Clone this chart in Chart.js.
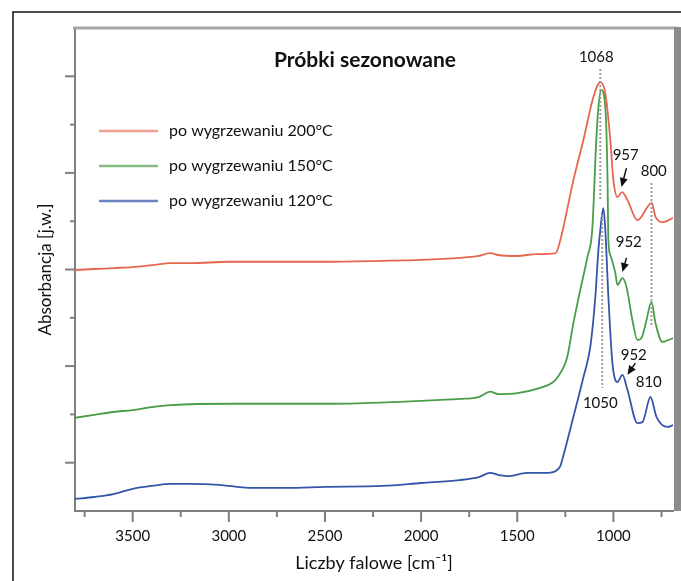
<!DOCTYPE html>
<html>
<head>
<meta charset="utf-8">
<script src="https://cdn.jsdelivr.net/npm/chart.js@4.4.1/dist/chart.umd.min.js"></script>
<style>
  body { margin: 0; background: #fff; }
  #wrap { width: 681px; height: 581px; }
</style>
</head>
<body>
<div id="wrap"><canvas id="ftir" width="681" height="581"></canvas></div>
<script>
// widma FTIR - liczby falowe [cm-1] i absorbancja [j.w.]
var seriesNames = ['po wygrzewaniu 200°C', 'po wygrzewaniu 150°C', 'po wygrzewaniu 120°C'];

var redWn  = [3800,3700,3600,3500,3400,3300,3200,3000,2800,2500,2200,2000,1800,1700,1640,1600,1500,1400,1300,1276,1208,1156,1104,1068,1042,1016,1000,979,955,927,875,800,781,740,690];
var redAbs = [4.99,5.01,5.03,5.05,5.09,5.13,5.13,5.16,5.16,5.16,5.18,5.20,5.24,5.28,5.34,5.30,5.28,5.32,5.34,5.61,6.85,7.68,8.57,8.88,8.65,7.68,6.85,6.50,6.60,6.44,6.02,6.38,6.09,5.98,6.07];

var greenWn  = [3800,3700,3600,3500,3400,3300,3000,2500,2000,1800,1700,1640,1600,1500,1380,1320,1290,1240,1208,1172,1135,1110,1089,1078,1063,1042,1031,1026,1016,990,979,953,932,901,875,854,828,802,781,745,714,688];
var greenAbs = [1.93,1.99,2.05,2.09,2.15,2.19,2.22,2.22,2.28,2.32,2.36,2.47,2.42,2.44,2.55,2.65,2.77,3.19,3.89,4.58,5.26,5.82,7.68,8.36,8.72,8.36,7.00,5.61,5.30,4.93,4.68,4.82,4.64,3.95,3.54,3.58,3.95,4.33,3.89,3.50,3.54,3.58];

var blueWn  = [3800,3700,3600,3500,3400,3300,3200,3050,3000,2900,2700,2500,2200,2000,1800,1700,1640,1600,1550,1450,1350,1300,1276,1266,1208,1156,1120,1094,1078,1068,1052,1042,1026,1005,979,953,927,875,849,807,776,719,688];
var blueAbs = [0.25,0.29,0.35,0.46,0.52,0.56,0.56,0.54,0.52,0.48,0.48,0.50,0.52,0.58,0.64,0.70,0.79,0.75,0.72,0.79,0.79,0.83,0.93,1.06,1.95,2.77,3.40,4.43,5.40,5.82,6.27,5.82,4.43,3.06,2.67,2.82,2.51,1.82,1.84,2.36,1.95,1.74,1.78];

// opisy pasm
var peakText   = ['1068', '957', '800', '952', '952', '810', '1050'];
var peakTextWn = [1089, 936, 790, 920, 894, 816, 1068];
var peakTextAbs = [9.40, 7.37, 7.04, 5.57, 3.23, 2.67, 2.24];
var dotWn   = [1068, 802, 1058];
var dotFrom = [9.15, 6.79, 6.13];
var dotTo   = [6.45, 3.81, 2.55];
var arrowWn  = [[932, 958], [932, 953], [886, 927]];
var arrowAbs = [[7.10, 6.71], [5.24, 4.95], [3.06, 2.82]];

var lineColors = ['#e5674f', '#4a9d48', '#3356a8'];
var legendColors = ['#f0a093', '#86bb84', '#6b82c0'];

function pts(wn, ab) {
    return wn.map(function(w, i) { return { x: w, y: ab[i] }; });
}

var FONT = 'Lato, "Open Sans", sans-serif';

var decor = {
    id: 'decor',
    beforeDraw: function(chart) {
        var ctx = chart.ctx;
        ctx.save();
        ctx.strokeStyle = '#111';
        ctx.lineWidth = 1.5;
        ctx.beginPath();
        ctx.moveTo(13, 581);
        ctx.lineTo(13, 12);
        ctx.lineTo(681, 12);
        ctx.stroke();
        ctx.restore();
    },
    afterDatasetsDraw: function(chart) {
        var ctx = chart.ctx, a = chart.chartArea;
        var x = chart.scales.x, y = chart.scales.y;
        ctx.save();

        // ramka pola wykresu
        ctx.strokeStyle = '#a6a6a6';
        ctx.lineWidth = 3;
        ctx.beginPath();
        ctx.moveTo(a.left - 2, a.top);
        ctx.lineTo(a.right + 4, a.top);
        ctx.stroke();
        ctx.fillStyle = '#8c8c8c';
        ctx.fillRect(a.right + 1, a.top - 1, 7, a.bottom - a.top + 1);

        // znaczniki osi
        ctx.strokeStyle = '#7f7f7f';
        ctx.lineWidth = 2;
        for (var t = 750; t <= 3750; t += 250) {
            var px = x.getPixelForValue(t);
            var len = (t % 500 === 0) ? 11 : 6;
            ctx.beginPath();
            ctx.moveTo(px, a.bottom);
            ctx.lineTo(px, a.bottom + len);
            ctx.stroke();
        }
        for (var v = 1; v <= 9; v++) {
            var py = y.getPixelForValue(v);
            var l2 = (v % 2 === 1) ? 10 : 5;
            ctx.beginPath();
            ctx.moveTo(a.left, py);
            ctx.lineTo(a.left - l2, py);
            ctx.stroke();
        }

        // linie kropkowane
        ctx.strokeStyle = '#9a9a9a';
        ctx.lineWidth = 2;
        ctx.setLineDash([2, 2]);
        dotWn.forEach(function(w, i) {
            var px = x.getPixelForValue(w);
            ctx.beginPath();
            ctx.moveTo(px, y.getPixelForValue(dotFrom[i]));
            ctx.lineTo(px, y.getPixelForValue(dotTo[i]));
            ctx.stroke();
        });
        ctx.setLineDash([]);

        // strzalki
        ctx.strokeStyle = '#111';
        ctx.fillStyle = '#111';
        ctx.lineWidth = 1.5;
        arrowWn.forEach(function(w, i) {
            var x0 = x.getPixelForValue(w[0]), y0 = y.getPixelForValue(arrowAbs[i][0]);
            var x1 = x.getPixelForValue(w[1]), y1 = y.getPixelForValue(arrowAbs[i][1]);
            var ang = Math.atan2(y1 - y0, x1 - x0);
            ctx.beginPath();
            ctx.moveTo(x0, y0);
            ctx.lineTo(x1 - 5 * Math.cos(ang), y1 - 5 * Math.sin(ang));
            ctx.stroke();
            ctx.beginPath();
            ctx.moveTo(x1, y1);
            ctx.lineTo(x1 - 9 * Math.cos(ang) + 4 * Math.sin(ang), y1 - 9 * Math.sin(ang) - 4 * Math.cos(ang));
            ctx.lineTo(x1 - 9 * Math.cos(ang) - 4 * Math.sin(ang), y1 - 9 * Math.sin(ang) + 4 * Math.cos(ang));
            ctx.closePath();
            ctx.fill();
        });

        // opisy pasm
        ctx.fillStyle = '#111';
        ctx.font = '15px ' + FONT;
        ctx.textAlign = 'center';
        ctx.textBaseline = 'middle';
        peakText.forEach(function(s, i) {
            ctx.fillText(s, x.getPixelForValue(peakTextWn[i]), y.getPixelForValue(peakTextAbs[i]));
        });

        // tytul
        ctx.font = 'bold 21px ' + FONT;
        ctx.fillText('Próbki sezonowane', a.left + 290, a.top + 32);

        // legenda
        ctx.textAlign = 'left';
        ctx.font = '16px ' + FONT;
        seriesNames.forEach(function(n, i) {
            var ly = a.top + 103 + i * 35;
            ctx.strokeStyle = legendColors[i];
            ctx.lineWidth = 2.5;
            ctx.beginPath();
            ctx.moveTo(a.left + 24, ly);
            ctx.lineTo(a.left + 83, ly);
            ctx.stroke();
            ctx.fillStyle = '#111';
            ctx.fillText(n, a.left + 94, ly);
        });
        ctx.restore();
    }
};

new Chart(document.getElementById('ftir'), {
    type: 'line',
    data: {
        datasets: [
            { label: seriesNames[0], data: pts(redWn, redAbs), borderColor: lineColors[0] },
            { label: seriesNames[1], data: pts(greenWn, greenAbs), borderColor: lineColors[1] },
            { label: seriesNames[2], data: pts(blueWn, blueAbs), borderColor: lineColors[2] }
        ]
    },
    options: {
        responsive: false,
        animation: false,
        layout: { padding: { top: 28, right: 8, left: 0, bottom: 0 } },
        elements: {
            point: { radius: 0 },
            line: { borderWidth: 1.8, cubicInterpolationMode: 'monotone', fill: false }
        },
        plugins: {
            legend: { display: false },
            tooltip: { enabled: false }
        },
        scales: {
            x: {
                type: 'linear',
                reverse: true,
                min: 690,
                max: 3800,
                afterFit: function(s) { s.height = 70; },
                grid: { display: false, drawTicks: false },
                border: { display: true, color: '#7f7f7f', width: 2 },
                ticks: {
                    stepSize: 250,
                    includeBounds: false,
                    autoSkip: false,
                    maxRotation: 0,
                    padding: 16,
                    color: '#111',
                    font: { family: FONT, size: 15 },
                    callback: function(v) { return v % 500 === 0 ? String(v) : ''; }
                },
                title: {
                    display: true,
                    text: 'Liczby falowe [cm⁻¹]',
                    color: '#111',
                    font: { family: FONT, size: 18 },
                    padding: { top: 0, bottom: 7 }
                }
            },
            y: {
                min: 0,
                max: 10,
                afterFit: function(s) { s.width = 75; },
                grid: { display: false, drawTicks: false },
                border: { display: true, color: '#7f7f7f', width: 2 },
                ticks: { display: false, stepSize: 1 },
                title: {
                    display: true,
                    text: 'Absorbancja [j.w.]',
                    color: '#111',
                    font: { family: FONT, size: 17 },
                    padding: { top: 35, bottom: 0 }
                }
            }
        }
    },
    plugins: [decor]
});
</script>
</body>
</html>
